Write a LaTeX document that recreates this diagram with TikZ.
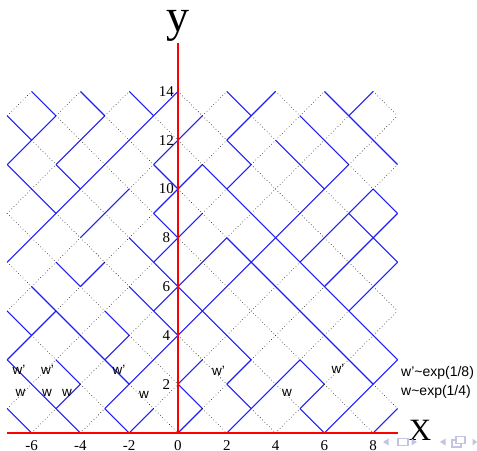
\documentclass[tikz,border=0pt]{standalone}
\usepackage{fontspec}
\setmainfont{Liberation Serif}
\setsansfont{Liberation Sans}
\begin{document}
\begin{tikzpicture}[x=24.4pt,y=24.4pt,
  s1/.style={draw={rgb,255:red,30;green,30;blue,245}, line width=1.1pt},
  s0/.style={draw=black, line width=0.8pt, line cap=round, dash pattern=on 0pt off 3.2pt},
  axisline/.style={draw=red, line width=1.1pt},
  ticklab/.style={font=\fontsize{15}{15}\selectfont, inner sep=0pt},
  wlab/.style={font=\sffamily\fontsize{13.5}{14}\selectfont, inner sep=0pt},
  rlab/.style={font=\sffamily\fontsize{14}{15}\selectfont, inner sep=0pt, anchor=base west},
  navc/.style={fill={rgb,255:red,195;green,195;blue,228}, draw=none}]
\useasboundingbox (-7.2951,-0.7377) rectangle (12.2541,17.7459);
% lattice segments: row r (band y=r..r+1), columns c=-7..8
\foreach \r/\bits in {
 0/{1,0,1,0,1,1,0,1,0,1,0,0,1,1,0,1},
 1/{0,1,1,0,1,0,0,1,0,1,1,0,1,0,1,0},
 2/{1,0,1,0,1,1,0,1,0,1,0,1,1,0,1,1},
 3/{1,0,0,1,1,0,1,0,0,1,0,0,0,1,0,1},
 4/{1,1,1,0,1,0,1,1,1,0,0,0,1,0,1,0},
 5/{0,1,0,0,0,1,1,1,1,0,0,1,0,1,1,0},
 6/{0,0,1,1,0,0,1,1,0,1,1,0,1,1,0,1},
 7/{1,0,0,0,0,1,1,0,1,1,1,1,1,0,1,1},
 8/{0,1,0,1,0,0,1,1,0,0,1,1,0,1,1,1},
 9/{0,1,1,0,1,0,1,0,0,1,0,0,1,0,1,1},
 10/{1,0,1,1,0,0,1,1,1,1,0,0,1,1,0,0},
 11/{1,0,1,0,1,0,1,0,0,1,0,1,0,1,0,1},
 12/{1,1,0,1,0,1,0,1,0,1,0,0,1,0,1,0},
 13/{0,1,0,1,0,1,1,0,0,1,1,0,0,1,1,0}}{
  \foreach \b [count=\i from 0] in \bits {
    \pgfmathtruncatemacro\c{\i-7}
    \pgfmathtruncatemacro\p{mod(\c+\r+20,2)}
    \pgfmathtruncatemacro\ya{\r+\p}
    \pgfmathtruncatemacro\yb{\r+1-\p}
    \pgfmathtruncatemacro\cc{\c+1}
    \draw[s\b] (\c,\ya) -- (\cc,\yb);
  }
}
% axes
\coordinate (xl) at (-7,0);
\coordinate (xr) at (9,0);
\coordinate (o) at (0,0);
\coordinate (yt) at (0,16);
\draw[axisline] (xl) -- (xr);
\draw[axisline] (o) -- (yt);
\node[font=\fontsize{46}{46}\selectfont, inner sep=0pt, anchor=base] (ylab) at (0,16.45) {y};
\node[font=\fontsize{31}{31}\selectfont, inner sep=0pt, anchor=base] (xlab) at (9.918,-0.328) {X};
% tick labels
\foreach \t in {-6,-4,-2,0,2,4,6,8}
  \node[ticklab, anchor=north] (xt\t) at (\t,-0.287) {\t};
\foreach \t in {2,4,...,14}
  \node[ticklab] (yt\t) at (-0.48,\t) {\t};
% px scope for free labels
\begin{scope}[shift={(-7.2951,17.7459)}, x=1pt, y=-1pt]
  \node[wlab] (l1) at (19,370) {w'};
  \node[wlab] (l2) at (47.5,370) {w'};
  \node[wlab] (l3) at (119,370) {w'};
  \node[wlab] (l4) at (20.5,393) {w};
  \node[wlab] (l5) at (47,393) {w};
  \node[wlab] (l6) at (67,393) {w};
  \node[wlab] (l7) at (144,395) {w};
  \node[wlab] (l8) at (218.5,371) {w'};
  \node[wlab] (l9) at (287,393) {w};
  \node[wlab] (l10) at (338,369) {w'};
  \node[rlab] (r1) at (401,377) {w'\textasciitilde exp(1/8)};
  \node[rlab] (r2) at (401,396) {w\textasciitilde exp(1/4)};
  % navigation symbols
  \fill[navc] (383,442) -- (388.5,438.5) -- (388.5,445.5) -- cycle;
  \draw[draw={rgb,255:red,195;green,195;blue,228}, line width=1.2pt] (398,438.5) rectangle (408,445.5);
  \fill[navc] (417,442) -- (411.5,438.5) -- (411.5,445.5) -- cycle;
  \fill[navc] (440,442) -- (445.5,438.5) -- (445.5,445.5) -- cycle;
  \draw[draw={rgb,255:red,195;green,195;blue,228}, line width=1.1pt] (452,440) rectangle (461,447);
  \draw[draw={rgb,255:red,195;green,195;blue,228}, line width=1.1pt, fill=white] (456,436.5) rectangle (465,443.5);
  \fill[navc] (477,442) -- (472.5,438.5) -- (472.5,445.5) -- cycle;
\end{scope}
\end{tikzpicture}
\end{document}
